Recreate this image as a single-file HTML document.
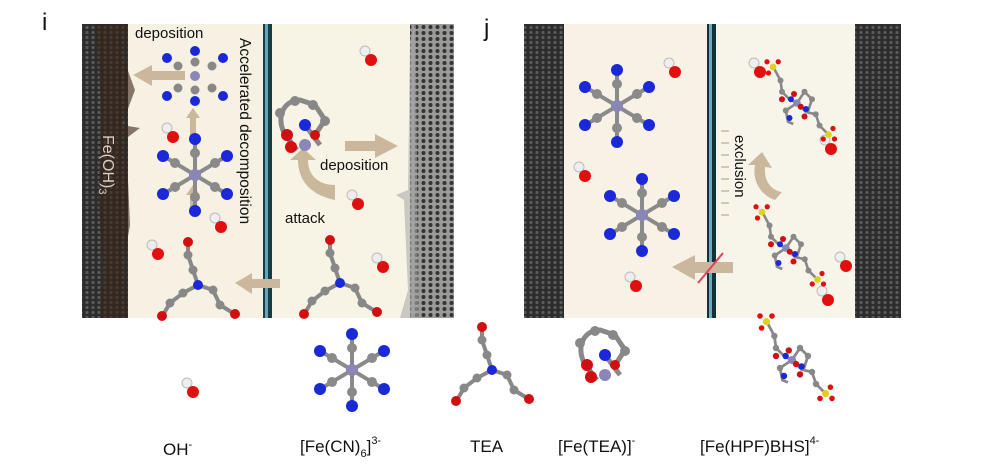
<!DOCTYPE html>
<html><head><meta charset="utf-8"><style>
html,body{margin:0;padding:0;background:#fff;width:1000px;height:476px;overflow:hidden}
svg{display:block}
text{font-family:"Liberation Sans",sans-serif;fill:#111}
</style></head><body>
<svg width="1000" height="476" viewBox="0 0 1000 476" xmlns="http://www.w3.org/2000/svg">
<defs>
<pattern id="elec" width="6" height="5" patternUnits="userSpaceOnUse">
<rect width="6" height="5" fill="#2c2c2c"/><circle cx="3" cy="2.5" r="1.6" fill="#5a5a5a"/>
</pattern>
<pattern id="elec2" width="7" height="6" patternUnits="userSpaceOnUse">
<rect width="7" height="6" fill="#9a9a98"/><circle cx="3.5" cy="3" r="2" fill="#333"/>
</pattern>
<g id="oh"><circle cx="-3" cy="-5" r="5" fill="#eee" stroke="#bbb"/><circle cx="3" cy="4" r="6" fill="#e01010"/></g>
<g id="fecn">
<g stroke="#8a8a8a" stroke-width="4">
<line x1="0" y1="-34" x2="0" y2="34"/><line x1="-30" y1="-18" x2="30" y2="18"/><line x1="30" y1="-18" x2="-30" y2="18"/></g>
<g fill="#8a8a8a"><circle cx="0" cy="-22" r="5"/><circle cx="0" cy="22" r="5"/><circle cx="-20" cy="-12" r="5"/><circle cx="20" cy="12" r="5"/><circle cx="20" cy="-12" r="5"/><circle cx="-20" cy="12" r="5"/></g>
<g fill="#1a28d8"><circle cx="0" cy="-36" r="6"/><circle cx="0" cy="36" r="6"/><circle cx="-32" cy="-19" r="6"/><circle cx="32" cy="19" r="6"/><circle cx="32" cy="-19" r="6"/><circle cx="-32" cy="19" r="6"/></g>
<circle r="6" fill="#8a86b8"/>
</g>
<g id="tea">
<g stroke="#888" stroke-width="4" fill="none"><polyline points="0,0 -5,-15 -10,-30 -10,-42"/><polyline points="0,0 -15,8 -28,18 -35,30"/><polyline points="0,0 15,5 22,20 35,28"/></g>
<g fill="#888"><circle cx="-5" cy="-15" r="4.5"/><circle cx="-10" cy="-30" r="4.5"/><circle cx="-15" cy="8" r="4.5"/><circle cx="-28" cy="18" r="4.5"/><circle cx="15" cy="5" r="4.5"/><circle cx="22" cy="20" r="4.5"/></g>
<g fill="#d01010"><circle cx="-10" cy="-43" r="5"/><circle cx="-36" cy="31" r="5"/><circle cx="37" cy="29" r="5"/></g>
<circle r="5" fill="#1a28d8"/>
</g>
<g id="fetea">
<g stroke="#888" stroke-width="5" fill="none"><path d="M-20,10 C-30,-10 -20,-25 -5,-25 L10,-20 20,-5 10,10"/><path d="M-18,12 L-8,25 M0,0 L15,20"/></g>
<g fill="#888"><circle cx="-25" cy="-12" r="5"/><circle cx="-10" cy="-24" r="5"/><circle cx="8" cy="-20" r="5"/><circle cx="20" cy="-4" r="5"/></g>
<circle cx="0" cy="0" r="6" fill="#1a28d8"/>
<g fill="#d01010"><circle cx="-18" cy="10" r="6"/><circle cx="-14" cy="22" r="6"/><circle cx="10" cy="10" r="5"/></g>
<circle cx="0" cy="20" r="6" fill="#8a86b8"/>
</g>
<g id="hpf">
<g stroke="#888" stroke-width="3.5" fill="none"><polyline points="-30,-45 -22,-30 -20,-15 -10,-5 0,0 10,-15 20,-5 15,10 5,5"/><polyline points="0,0 -15,10 -12,25 -5,28"/><polyline points="0,0 12,12 25,15 30,30 40,40"/></g>
<g fill="#888"><circle cx="-22" cy="-30" r="4"/><circle cx="-20" cy="-15" r="4"/><circle cx="10" cy="-15" r="4"/><circle cx="20" cy="-5" r="4"/><circle cx="-15" cy="10" r="4"/><circle cx="25" cy="15" r="4"/><circle cx="30" cy="30" r="4"/></g>
<g fill="#1a28d8"><circle cx="-8" cy="-5" r="4"/><circle cx="12" cy="8" r="4"/><circle cx="-10" cy="20" r="4"/></g>
<circle r="5" fill="#8a86b8"/>
<g fill="#d01010"><circle cx="5" cy="5" r="4"/><circle cx="-4" cy="-12" r="4"/><circle cx="-20" cy="-5" r="4"/><circle cx="10" cy="18" r="4"/></g>
<g fill="#e0d020"><circle cx="-32" cy="-48" r="4.5"/><circle cx="42" cy="42" r="4.5"/></g>
<g fill="#e01010"><circle cx="-40" cy="-55" r="3.5"/><circle cx="-25" cy="-55" r="3.5"/><circle cx="-38" cy="-40" r="3.5"/><circle cx="35" cy="48" r="3.5"/><circle cx="50" cy="48" r="3.5"/><circle cx="48" cy="34" r="3.5"/></g>
</g>
</defs>

<text x="42" y="30" font-size="24">i</text>
<text x="484" y="36" font-size="24">j</text>

<!-- panel i -->
<rect x="128" y="24" width="136" height="294" fill="#f7f1e4"/>
<rect x="272" y="24" width="138" height="294" fill="#f7f4e6"/>
<rect x="82" y="24" width="46" height="294" fill="url(#elec)"/>
<path d="M96,24 L128,24 L124,60 L135,90 L122,125 L140,128 L124,140 L128,180 L130,225 L124,260 L128,318 L100,318 L104,270 L98,200 L102,120 Z" fill="#3b2418" opacity="0.6"/>
<rect x="410" y="24" width="44" height="294" fill="url(#elec2)"/>
<path d="M410,40 L416,24 L418,318 L400,318 L408,290 L404,200 L396,195 L408,190 Z" fill="#aaa" opacity="0.6"/>
<rect x="263" y="24" width="9" height="294" fill="#1c3a44"/>
<rect x="265" y="24" width="3" height="294" fill="#5fa9b8"/>
<text transform="translate(103,135) rotate(90)" font-size="16" style="fill:#d8d0c8">Fe(OH)<tspan font-size="11" dy="4" style="fill:#d8d0c8">3</tspan></text>
<text x="135" y="38" font-size="15">deposition</text>
<text transform="translate(240,38) rotate(90)" font-size="15.5">Accelerated decomposition</text>
<text x="320" y="170" font-size="15">deposition</text>
<text x="285" y="223" font-size="15">attack</text>
<g fill="#cbb89c">
<polygon points="133,75 152,65 152,71 185,71 185,80 152,80 152,86"/>
<polygon points="193,108 200,118 196,118 196,138 190,138 190,118 186,118"/>
<polygon points="193,185 200,195 196,195 196,210 190,210 190,195 186,195"/>
<polygon points="235,283 252,273 252,279 280,279 280,288 252,288 252,294"/>
<polygon points="345,141 375,141 375,134 398,146 375,158 375,151 345,151"/>
<path d="M335,200 C310,195 298,180 298,160 L290,160 L303,148 L316,160 L308,160 C308,175 318,185 335,185 Z"/>
</g>
<use href="#fecn" x="195" y="175"/>
<g transform="translate(195,76)">
<circle r="5" fill="#8a86b8"/>
<g fill="#888"><circle cy="-14" r="4.5"/><circle cy="14" r="4.5"/><circle cx="-17" cy="-10" r="4.5"/><circle cx="17" cy="-10" r="4.5"/><circle cx="-17" cy="12" r="4.5"/><circle cx="17" cy="12" r="4.5"/></g>
<g fill="#1a28d8"><circle cy="-25" r="5"/><circle cy="25" r="5"/><circle cx="-28" cy="-18" r="5"/><circle cx="28" cy="-18" r="5"/><circle cx="-28" cy="20" r="5"/><circle cx="28" cy="20" r="5"/></g>
</g>
<use href="#oh" x="170" y="133"/>
<use href="#oh" x="218" y="223"/>
<use href="#oh" x="155" y="250"/>
<use href="#oh" x="368" y="56"/>
<use href="#oh" x="355" y="200"/>
<use href="#oh" x="380" y="263"/>
<use href="#tea" x="198" y="285"/>
<use href="#tea" x="340" y="283"/>
<use href="#fetea" x="305" y="125"/>

<!-- panel j -->
<rect x="562" y="24" width="146" height="294" fill="#f8f2e6"/>
<rect x="716" y="24" width="140" height="294" fill="#f7f5ea"/>
<rect x="524" y="24" width="40" height="294" fill="url(#elec)"/>
<rect x="855" y="24" width="46" height="294" fill="url(#elec)"/>
<rect x="707" y="24" width="9" height="294" fill="#143038"/>
<rect x="709" y="24" width="3" height="294" fill="#5fb0c0"/>
<text transform="translate(735,135) rotate(90)" font-size="15">exclusion</text>
<g fill="#cbb89c">
<path d="M775,200 C760,195 752,180 755,165 L748,165 L762,152 L772,168 L765,167 C764,180 770,190 782,192 Z"/>
<polygon points="672,267 695,255 695,262 733,262 733,273 695,273 695,280"/>
</g>
<g stroke="#cbb89c" stroke-width="1.5"><line x1="721" y1="131" x2="729" y2="131"/><line x1="721" y1="143" x2="729" y2="143"/><line x1="721" y1="155" x2="729" y2="155"/><line x1="721" y1="167" x2="729" y2="167"/><line x1="721" y1="179" x2="729" y2="179"/><line x1="721" y1="191" x2="729" y2="191"/><line x1="721" y1="203" x2="729" y2="203"/><line x1="721" y1="215" x2="729" y2="215"/></g>
<line x1="698" y1="283" x2="723" y2="253" stroke="#e04060" stroke-width="2"/>
<use href="#fecn" x="617" y="106"/>
<use href="#fecn" x="642" y="215"/>
<use href="#oh" x="672" y="68"/>
<use href="#oh" x="582" y="172"/>
<use href="#oh" x="633" y="282"/>
<use href="#oh" x="757" y="68"/>
<use href="#oh" x="828" y="145"/>
<use href="#oh" x="843" y="262"/>
<use href="#oh" x="825" y="296"/>
<g transform="translate(797,103) scale(0.75)"><use href="#hpf"/></g>
<g transform="translate(786,248) scale(0.75)"><use href="#hpf"/></g>

<!-- legend -->
<use href="#oh" x="190" y="388"/>
<use href="#fecn" x="352" y="370"/>
<use href="#tea" x="492" y="370"/>
<use href="#fetea" x="605" y="355"/>
<g transform="translate(792,360) scale(0.8)"><use href="#hpf"/></g>
<text x="163" y="455" font-size="17">OH<tspan font-size="11" dy="-7">-</tspan></text>
<text x="300" y="452" font-size="17">[Fe(CN)<tspan font-size="11" dy="5">6</tspan><tspan dy="-5">]</tspan><tspan font-size="11" dy="-8">3-</tspan></text>
<text x="470" y="452" font-size="17">TEA</text>
<text x="558" y="452" font-size="17">[Fe(TEA)]<tspan font-size="11" dy="-8">-</tspan></text>
<text x="700" y="452" font-size="17">[Fe(HPF)BHS]<tspan font-size="11" dy="-8">4-</tspan></text>
</svg>
</body></html>
